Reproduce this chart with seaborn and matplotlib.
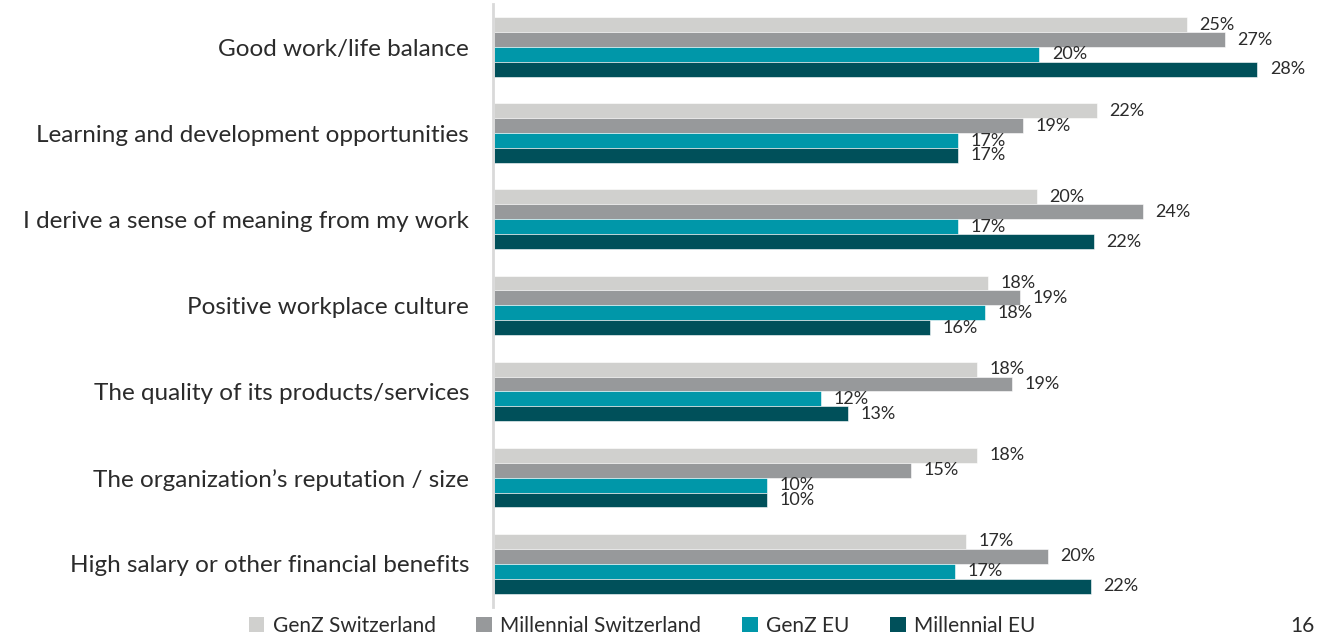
import numpy as np
import pandas as pd
import matplotlib
matplotlib.use("Agg")
import matplotlib.pyplot as plt
from matplotlib.patches import Patch
import seaborn as sns

categories = [
    "Good work/life balance",
    "Learning and development opportunities",
    "I derive a sense of meaning from my work",
    "Positive workplace culture",
    "The quality of its products/services",
    "The organization\u2019s reputation / size",
    "High salary or other financial benefits",
]
series_names = ["GenZ Switzerland", "Millennial Switzerland", "GenZ EU", "Millennial EU"]
genz_ch = [25.4, 22.1, 19.9, 18.1, 17.7, 17.7, 17.3]
millennial_ch = [26.8, 19.4, 23.8, 19.3, 19.0, 15.3, 20.3]
genz_eu = [20.0, 17.0, 17.0, 18.0, 12.0, 10.0, 16.9]
millennial_eu = [28.0, 17.0, 22.0, 16.0, 13.0, 10.0, 21.9]
colors = ["#D0D0CE", "#97999B", "#0097A9", "#00505A"]
page_number = "16"

values = [genz_ch, millennial_ch, genz_eu, millennial_eu]
df = pd.DataFrame({
    "reason": categories * len(series_names),
    "group": [s for s in series_names for _ in categories],
    "share": [v for vals in values for v in vals],
})

sns.set_theme(style="white")
plt.rcParams["font.family"] = ["Lato", "DejaVu Sans"]
text_color = "#2B2B2B"

fig = plt.figure(figsize=(13.24, 6.36), dpi=100)
ax = fig.add_axes([494 / 1324, 1 - 606.8 / 636, 818 / 1324, (606.8 - 3.95) / 636])

sns.barplot(
    data=df, y="reason", x="share", hue="group", order=categories,
    hue_order=series_names, palette=colors, saturation=1, orient="h",
    width=0.692, dodge=True, ax=ax, legend=False, edgecolor="white",
    linewidth=0.4,
)

for container in ax.containers:
    ax.bar_label(container, fmt=lambda v: f"{v:.0f}%", padding=9,
                 fontsize=13, color=text_color)

ax.set_xlim(0, 30)
ax.set_ylim(6.5, -0.5)
ax.set_xlabel("")
ax.set_ylabel("")
ax.set_xticks([])
ax.tick_params(axis="y", length=0, pad=17, labelsize=17.5, labelcolor=text_color)
for side in ["top", "right", "bottom"]:
    ax.spines[side].set_visible(False)
ax.spines["left"].set_color("#D9D9D9")
ax.spines["left"].set_linewidth(2)
ax.spines["left"].set_position(("data", -0.05))

handles = [Patch(facecolor=c, edgecolor="none") for c in colors]
fig.legend(handles, series_names, loc="center",
           bbox_to_anchor=(642 / 1324, 1 - 626 / 636), ncol=4,
           frameon=False, fontsize=15, handlelength=0.75,
           handleheight=0.75, handletextpad=0.4, columnspacing=1.95,
           labelcolor=text_color)

fig.text(1302 / 1324, 1 - 626 / 636, page_number, ha="center", va="center",
         fontsize=15, color=text_color)

fig.savefig("out.png", dpi=100, facecolor="white")
